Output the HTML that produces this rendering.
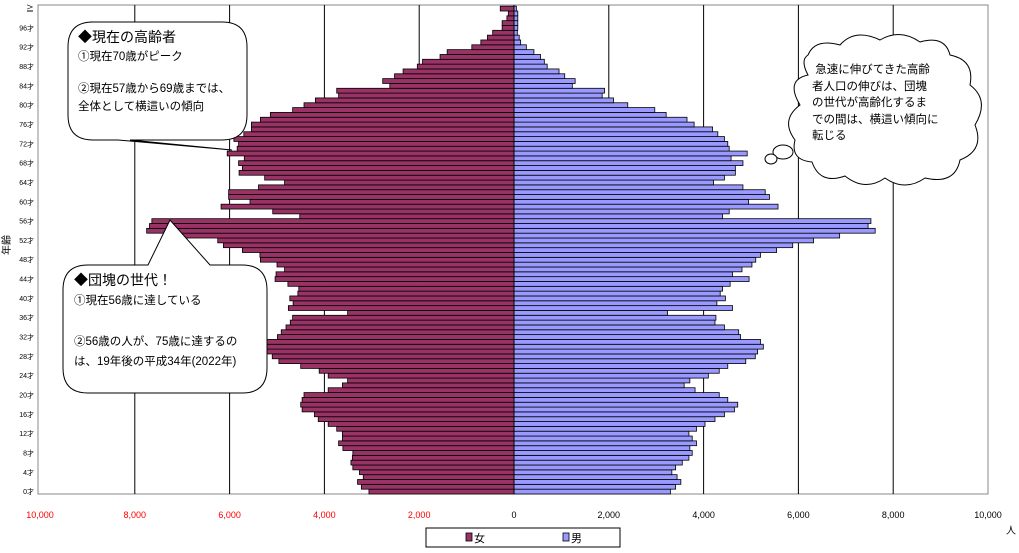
<!DOCTYPE html>
<html><head><meta charset="utf-8">
<style>
body{margin:0;background:#fff;width:1019px;height:553px;overflow:hidden;font-family:"Liberation Sans","Noto Sans CJK JP",sans-serif;}
svg{position:absolute;left:0;top:0}
.t{position:absolute;font-size:11.5px;line-height:16px;color:#000;white-space:nowrap}
</style></head><body>
<svg id="c" width="1019" height="553"></svg>
<div class="t" style="left:78px;top:29px;font-size:14px">◆現在の高齢者</div>
<div class="t" style="left:78px;top:49px">①現在70歳がピーク</div>
<div class="t" style="left:78px;top:81px">②現在57歳から69歳までは、</div>
<div class="t" style="left:78px;top:99px">全体として横這いの傾向</div>
<div class="t" style="left:74px;top:272px;font-size:14px">◆団塊の世代！</div>
<div class="t" style="left:74px;top:293px">①現在56歳に達している</div>
<div class="t" style="left:74px;top:334px">②56歳の人が、75歳に達するの</div>
<div class="t" style="left:74px;top:354px">は、19年後の平成34年(2022年)</div>
<div class="t" style="left:812px;top:62px;line-height:16.5px">&nbsp;急速に伸びてきた高齢<br>者人口の伸びは、団塊<br>の世代が高齢化するま<br>での間は、横這い傾向に<br>転じる</div>
<script>
const ages=[];for(let i=0;i<=100;i++)ages.push(i);
const female=[3060,3220,3300,3180,3260,3400,3440,3410,3400,3610,3700,3620,3620,3740,3920,4130,4210,4470,4500,4470,4430,3920,3620,3510,3920,4110,4500,4960,5100,5220,5220,5220,4990,4910,
4810,4720,4670,3510,4760,4660,4730,4560,4540,4770,5040,5020,4840,5000,5350,5360,5730,6130,6250,7250,7750,7690,7640,4520,5090,6180,5570,6020,6020,5390,4840,5260,5800,5730,
5810,5690,6050,5840,5810,5910,5700,5540,5540,5350,5140,4670,4430,4190,3700,3740,2620,2770,2520,2340,2040,1930,1560,1410,890,700,560,450,250,250,150,120,290];
const male=[3300,3410,3520,3440,3330,3410,3550,3690,3760,3710,3850,3760,3690,3850,4030,4240,4440,4650,4720,4510,4330,3820,3590,3710,4100,4330,4510,4890,5090,5140,5260,5200,4780,4740,
4440,4240,4260,3240,4610,4280,4460,4350,4400,4560,4960,4610,4810,5020,5100,5200,5540,5880,6320,6870,7620,7470,7530,4400,4540,5570,4950,5390,5300,4830,4210,4440,4670,4670,
4830,4580,4920,4540,4510,4440,4300,4190,3800,3650,3210,2970,2400,2100,1860,1910,1230,1290,1070,950,700,640,560,420,260,140,110,70,80,80,80,80,50];
const xTicks=[-10000,-8000,-6000,-4000,-2000,0,2000,4000,6000,8000,10000];
const xTickLabels=["10,000","8,000","6,000","4,000","2,000","0","2,000","4,000","6,000","8,000","10,000"];
const NS="http://www.w3.org/2000/svg";
const svg=document.getElementById('c');
const X0=514,PX=47.4/1000,YB=494,RH=4.83;
const xs=v=>X0+v*PX;
const ys=a=>YB-(a+1)*RH;
function mk(t,a,p){const e=document.createElementNS(NS,t);for(const k in a)e.setAttribute(k,a[k]);(p||svg).appendChild(e);return e;}
let e;
e=mk('rect',{x:38,y:5,width:950,height:489,fill:'#fff',stroke:'#888','stroke-width':1});

xTicks.forEach((v,i)=>{
 if(v!==0&&Math.abs(v)<10000){e=mk('line',{x1:xs(v),x2:xs(v),y1:5,y2:494,stroke:'#000','stroke-width':1});
 }
 e=mk('text',{x:xs(v),y:518,'font-size':9,'text-anchor':'middle',fill:v<0?'#ff0000':'#000'});
 e.textContent=xTickLabels[i];
 
});
ages.forEach((a,i)=>{
 e=mk('rect',{x:xs(-female[i]),y:ys(a),width:female[i]*PX,height:RH,fill:'#993366',stroke:'#000','stroke-width':0.8});
 
 e=mk('rect',{x:X0,y:ys(a),width:male[i]*PX,height:RH,fill:'#9999ff',stroke:'#000','stroke-width':0.8});
 
 if(a%4===0&&a<100){e=mk('text',{x:34,y:ys(a)+RH/2+2.5,'font-size':7,'text-anchor':'end'});e.textContent=a+'才';
 }
});
e=mk('text',{x:34,y:ys(100)+RH/2+3,'font-size':8,'text-anchor':'end'});e.textContent='≧';

e=mk('line',{x1:X0,x2:X0,y1:5,y2:494,stroke:'#000'});

e=mk('text',{x:0,y:0,'font-size':10,transform:'translate(10,245) rotate(-90)','text-anchor':'middle'});e.textContent='年齢';

e=mk('text',{x:1006,y:534,'font-size':10});e.textContent='人';

// legend
e=mk('rect',{x:426,y:528,width:194,height:19,fill:'#fff',stroke:'#000'});

e=mk('rect',{x:466,y:533,width:6,height:8,fill:'#993366',stroke:'#000','stroke-width':0.8});

e=mk('text',{x:474,y:542,'font-size':11});e.textContent='女';

e=mk('rect',{x:563,y:533,width:6,height:8,fill:'#9999ff',stroke:'#000','stroke-width':0.8});

e=mk('text',{x:571,y:542,'font-size':11});e.textContent='男';

// callout 1
e=mk('path',{d:'M90,22 H222 Q247,22 247,47 V115 Q247,140 222,140 H130 L232,150 L118,140 H93 Q68,140 68,115 V47 Q68,22 93,22 Z',fill:'#fff',stroke:'#000','stroke-width':1});

// callout 2
e=mk('path',{d:'M88,265 H148 L170,220 L210,265 H242 Q267,265 267,290 V368 Q267,393 242,393 H88 Q63,393 63,368 V290 Q63,265 88,265 Z',fill:'#fff',stroke:'#000','stroke-width':1});

// cloud
e=mk('path',{d:'M808,55 Q815,38 840,45 Q855,28 880,40 Q900,28 920,42 Q945,35 950,55 Q975,60 970,85 Q990,100 975,125 Q985,150 960,160 Q955,185 925,178 Q905,192 885,178 Q865,192 845,176 Q820,185 812,162 Q790,160 795,140 Q780,120 800,105 Q785,80 808,75 Q800,60 808,55 Z',fill:'#fff',stroke:'#000','stroke-width':1});

e=mk('ellipse',{cx:783,cy:152,rx:10,ry:7,fill:'#fff',stroke:'#000'});

e=mk('ellipse',{cx:771,cy:159,rx:6,ry:5,fill:'#fff',stroke:'#000'});

</script>
</body></html>
